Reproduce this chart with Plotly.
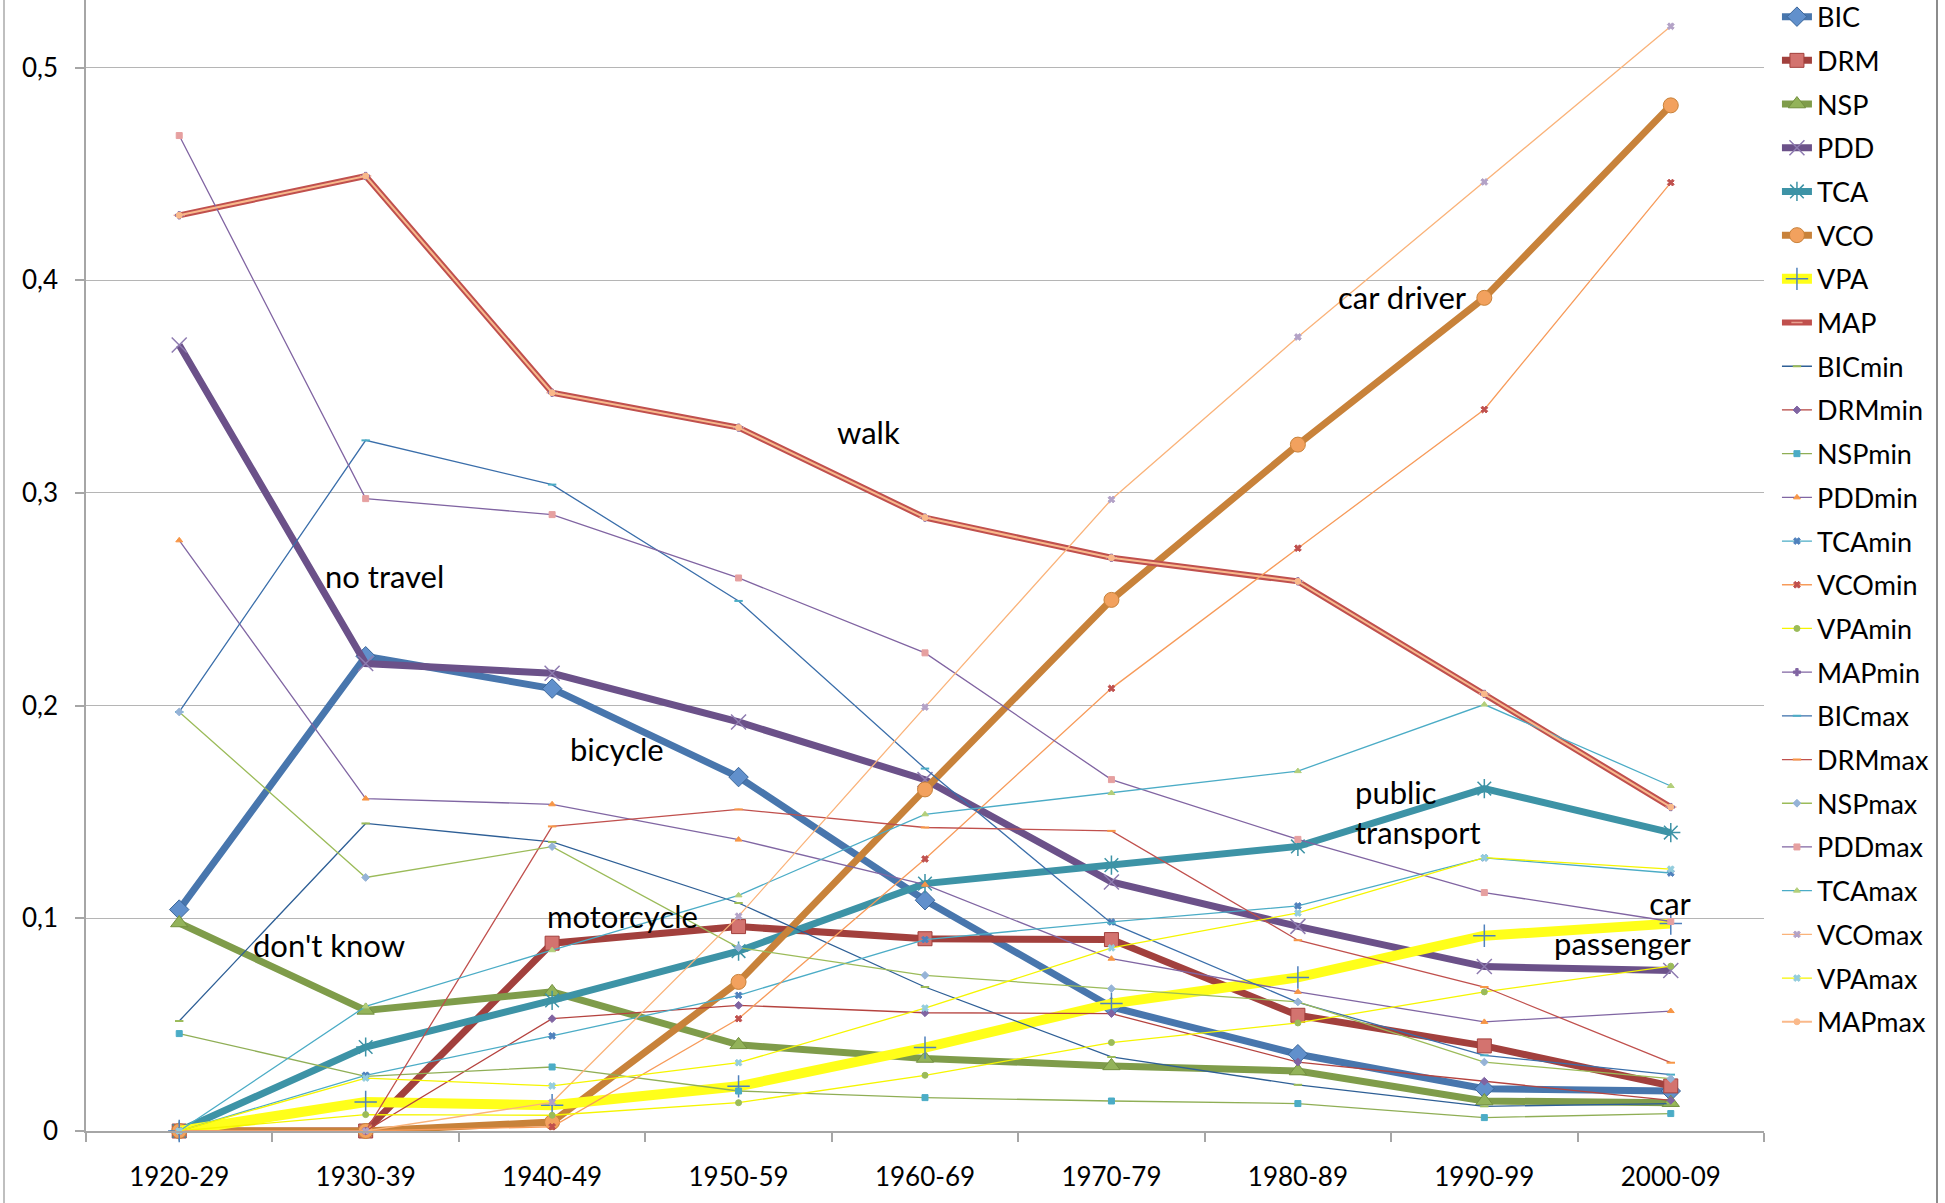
import plotly.graph_objects as go

# Share of trips by main mode, per decade
decades = ["1920-29", "1930-39", "1940-49", "1950-59", "1960-69",
           "1970-79", "1980-89", "1990-99", "2000-09"]

BIC = [0.1041, 0.2232, 0.2080, 0.1664, 0.1085, 0.0583, 0.0361, 0.0199, 0.0188]
DRM = [0.0, 0.0, 0.0883, 0.0961, 0.0904, 0.0900, 0.0544, 0.0400, 0.0212]
NSP = [0.0978, 0.0567, 0.0654, 0.0405, 0.0341, 0.0306, 0.0282, 0.0141, 0.0133]
PDD = [0.3695, 0.2198, 0.2152, 0.1923, 0.1652, 0.1171, 0.0962, 0.0773, 0.0755]
TCA = [0.0, 0.0395, 0.0614, 0.0846, 0.1163, 0.1250, 0.1338, 0.1610, 0.1403]
VCO = [0.0, 0.0, 0.0042, 0.0701, 0.1606, 0.2497, 0.3227, 0.3917, 0.4822]
VPA = [0.0, 0.0136, 0.0121, 0.0210, 0.0392, 0.0599, 0.0722, 0.0918, 0.0975]
MAP = [0.4305, 0.4490, 0.3471, 0.3307, 0.2884, 0.2695, 0.2584, 0.2055, 0.1523]

BICmin = [0.0517, 0.1446, 0.1359, 0.1072, 0.0677, 0.0348, 0.0217, 0.0116, 0.0129]
DRMmin = [0.0, 0.0, 0.0528, 0.0591, 0.0556, 0.0552, 0.0324, 0.0234, 0.0144]
NSPmin = [0.0458, 0.0257, 0.0301, 0.0188, 0.0157, 0.0141, 0.0129, 0.0063, 0.0082]
PDDmin = [0.2777, 0.1563, 0.1536, 0.1370, 0.1158, 0.0810, 0.0654, 0.0513, 0.0564]
TCAmin = [0.0, 0.0262, 0.0447, 0.0638, 0.0900, 0.0983, 0.1058, 0.1284, 0.1213]
VCOmin = [0.0, 0.0, 0.0020, 0.0528, 0.1279, 0.2081, 0.2740, 0.3392, 0.4459]
VPAmin = [0.0, 0.0077, 0.0074, 0.0133, 0.0262, 0.0416, 0.0508, 0.0654, 0.0775]
MAPmin = [0.4305, 0.4490, 0.3471, 0.3307, 0.2884, 0.2695, 0.2584, 0.2055, 0.1523]

BICmax = [0.1970, 0.3247, 0.3039, 0.2492, 0.1704, 0.0977, 0.0605, 0.0356, 0.0265]
DRMmax = [0.0, 0.0, 0.1432, 0.1512, 0.1427, 0.1411, 0.0897, 0.0677, 0.0321]
NSPmax = [0.1970, 0.1192, 0.1337, 0.0862, 0.0732, 0.0669, 0.0607, 0.0324, 0.0246]
PDDmax = [0.4680, 0.2973, 0.2898, 0.2600, 0.2248, 0.1652, 0.1371, 0.1121, 0.0985]
TCAmax = [0.0, 0.0586, 0.0850, 0.1108, 0.1489, 0.1589, 0.1692, 0.2005, 0.1622]
VCOmax = [0.0, 0.0, 0.0135, 0.1010, 0.1993, 0.2969, 0.3733, 0.4462, 0.5194]
VPAmax = [0.0, 0.0249, 0.0212, 0.0321, 0.0578, 0.0861, 0.1025, 0.1285, 0.1231]
MAPmax = [0.4305, 0.4490, 0.3471, 0.3307, 0.2884, 0.2695, 0.2584, 0.2055, 0.1523]

y_ticks = [0, 0.1, 0.2, 0.3, 0.4, 0.5]
y_tick_text = ["0", "0,1", "0,2", "0,3", "0,4", "0,5"]

FONT = "Lato, 'Liberation Sans', sans-serif"

fig = go.Figure()


def add(name, y, color, width, symbol, msize, mcolor, mline=None, mlw=1.0):
    fig.add_trace(go.Scatter(
        x=decades, y=y, name=name, mode="lines+markers",
        legendgroup=name, cliponaxis=False,
        line=dict(color=color, width=width),
        marker=dict(symbol=symbol, size=msize, color=mcolor,
                    line=dict(color=mline or mcolor, width=mlw)),
    ))


# main series (thick)
add("BIC", BIC, "#4876AD", 7, "diamond", 15, "#6190CC", "#3B6699", 1)
add("DRM", DRM, "#A2403D", 7, "square", 14, "#D3736F", "#A2403D", 1)
add("NSP", NSP, "#7F9C4A", 7, "triangle-up", 15, "#93B35A", "#73903F", 1)
add("PDD", PDD, "#6B5189", 7, "x-thin-open", 15, "#8E7BB0", None, 1.5)
add("TCA", TCA, "#3D93A6", 7, "asterisk-open", 16, "#3D93A6", None, 1.5)
add("VCO", VCO, "#C8823A", 7, "circle", 15, "#F2A15E", "#C8823A", 1)
add("VPA", VPA, "#FFFF1A", 10, "cross-thin-open", 16, "#4F81BD", None, 1.5)
add("MAP", MAP, "#C0504D", 6, "line-ew-open", 8, "#E8A090", None, 1.5)

# lower bounds (thin)
add("BICmin", BICmin, "#2E5F96", 1.3, "line-ew-open", 6, "#9BBB59", None, 2)
add("DRMmin", DRMmin, "#B5433F", 1.3, "diamond", 6, "#8064A2")
add("NSPmin", NSPmin, "#8FAE55", 1.3, "square", 6, "#4BACC6")
add("PDDmin", PDDmin, "#8066A3", 1.3, "triangle-up", 6, "#F79646")
add("TCAmin", TCAmin, "#4BACC6", 1.3, "x", 6, "#4F81BD")
add("VCOmin", VCOmin, "#F79B5A", 1.3, "x", 6, "#C0504D")
add("VPAmin", VPAmin, "#F5F500", 1.3, "circle", 6, "#9BBB59")
add("MAPmin", MAPmin, "#8064A2", 1.3, "cross", 6, "#8064A2")

# upper bounds (thin)
add("BICmax", BICmax, "#3A6EAA", 1.3, "line-ew-open", 6, "#4BACC6", None, 2)
add("DRMmax", DRMmax, "#C0504D", 1.3, "line-ew-open", 6, "#F79646", None, 2)
add("NSPmax", NSPmax, "#9BBB59", 1.3, "diamond", 6, "#95B3D7")
add("PDDmax", PDDmax, "#8064A2", 1.3, "square", 6, "#E6A0A0")
add("TCAmax", TCAmax, "#4BACC6", 1.3, "triangle-up", 6, "#B3CF7A")
add("VCOmax", VCOmax, "#FAB37A", 1.3, "x", 6, "#B3A2C7")
add("VPAmax", VPAmax, "#F5F500", 1.3, "x", 6, "#93CDDD")
add("MAPmax", MAPmax, "#FAB98A", 2, "circle", 6, "#FAB98A")

# mode labels placed next to their lines
labels = [
    ("walk", 3.695, 0.3285, "center", "center"),
    ("no travel", 1.103, 0.261, "center", "center"),
    ("bicycle", 2.347, 0.1795, "center", "center"),
    ("motorcycle", 2.38, 0.1012, "center", "center"),
    ("don't know", 0.804, 0.0873, "center", "center"),
    ("car driver", 6.562, 0.3922, "center", "center"),
    ("public<br>transport", 6.294, 0.1498, "left", "left"),
    ("car<br>passenger", 8.123, 0.098, "right", "right"),
]
for text, xi, yv, anchor, align in labels:
    fig.add_annotation(x=xi, y=yv, text=text, showarrow=False,
                       xanchor=anchor, yanchor="middle", align=align,
                       font=dict(family=FONT, size=31, color="black"))

W, H = 1945, 1203
ML, MR, MT, MB = 86, 181, 0, 72
plot_w = W - ML - MR
plot_h = H - MT - MB

# outer chart frame (left and right edges)
for px, col in [(4, "#BFBFBF"), (1937, "#8C8C8C")]:
    xp = (px - ML) / plot_w
    fig.add_shape(type="line", xref="paper", yref="paper",
                  x0=xp, x1=xp, y0=-MB / plot_h, y1=1.0,
                  line=dict(color=col, width=2))

fig.update_layout(
    width=W, height=H,
    margin=dict(l=ML, r=MR, t=MT, b=MB, pad=0, autoexpand=False),
    paper_bgcolor="white", plot_bgcolor="white",
    font=dict(family=FONT, size=26, color="black"),
    showlegend=True,
    legend=dict(xref="container", yref="paper", x=0.9136,
                y=1 + 7.4 / plot_h,
                xanchor="left", yanchor="top",
                font=dict(family=FONT, size=27, color="black"),
                tracegroupgap=5.6, itemwidth=30, bgcolor="rgba(0,0,0,0)",
                traceorder="grouped", maxheight=1203),
)
fig.update_xaxes(
    type="category", range=[-0.5, 8.5],
    showline=True, linecolor="#A6A6A6", linewidth=1.5,
    ticks="outside", tickson="boundaries", ticklen=9,
    tickcolor="#A6A6A6", tickwidth=1.5,
    showgrid=False, zeroline=False,
    tickfont=dict(family=FONT, size=26, color="black"),
    ticklabelstandoff=22,
)
fig.update_yaxes(
    range=[0, plot_h / 2127.0],
    tickvals=y_ticks, ticktext=y_tick_text,
    showline=True, linecolor="#A6A6A6", linewidth=1.5,
    ticks="outside", ticklen=9, tickcolor="#A6A6A6", tickwidth=1.5,
    showgrid=True, gridcolor="#B5B5B5", gridwidth=1.3,
    zeroline=False,
    tickfont=dict(family=FONT, size=26, color="black"),
    ticklabelstandoff=12,
)

fig.write_html("out.html")
